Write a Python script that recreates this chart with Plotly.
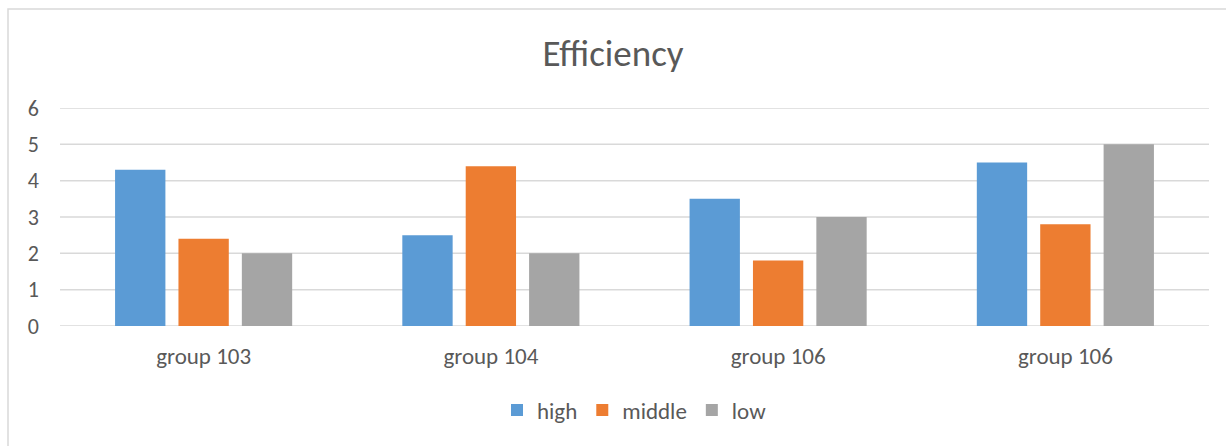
import plotly.graph_objects as go

# Chart data
groups = ["group 103", "group 104", "group 106", "group 106"]
high = [4.3, 2.5, 3.5, 4.5]
middle = [2.4, 4.4, 1.8, 2.8]
low = [2.0, 2.0, 3.0, 5.0]
y_ticks = [0, 1, 2, 3, 4, 5, 6]

FONT = "Calibri, Carlito, Lato, sans-serif"
TEXT = "#595959"
GRID = "#D9D9D9"

# Two groups share a label, so bars sit on numeric positions with text ticks
pos = list(range(len(groups)))

fig = go.Figure()
for name, vals, color in [("high", high, "#5B9BD5"),
                          ("middle", middle, "#ED7D31"),
                          ("low", low, "#A5A5A5")]:
    fig.add_trace(go.Bar(x=pos, y=vals, name=name, marker_color=color,
                         marker_line_width=0))

W, H = 1226, 446
L, R, T, B = 60, 17, 108, 120
pw, ph = W - L - R, H - T - B

# horizontal gridlines drawn as shapes so the top one at the range edge shows
grid_shapes = [
    dict(type="line", xref="paper", yref="y", x0=0, x1=1, y0=v, y1=v,
         line=dict(color=GRID, width=1.5), layer="below")
    for v in y_ticks
]

fig.update_layout(
    width=W, height=H,
    margin=dict(l=L, r=R, t=T, b=B),
    paper_bgcolor="white", plot_bgcolor="white",
    barmode="group", bargap=0.338, bargroupgap=0.206,
    font=dict(family=FONT, color=TEXT, size=22),
    title=dict(text="Efficiency", x=0.5, xanchor="center",
               y=1 - 53 / H, yanchor="middle",
               font=dict(family=FONT, size=37, color=TEXT)),
    xaxis=dict(tickmode="array", tickvals=pos, ticktext=groups,
               range=[-0.5, len(groups) - 0.5], showgrid=False,
               zeroline=False, showline=False, ticks="",
               ticklabelstandoff=14,
               tickfont=dict(size=23, color=TEXT)),
    yaxis=dict(range=[0, 6], tickvals=y_ticks, showgrid=False,
               zeroline=False, showline=False, ticks="",
               ticklabelstandoff=20,
               tickfont=dict(size=22, color=TEXT)),
    legend=dict(orientation="h", x=0.5, xanchor="center",
                y=-(410 - T - ph) / ph, yanchor="middle",
                font=dict(size=23, color=TEXT), itemwidth=30,
                traceorder="normal"),
    shapes=[
        # chart-area border
        dict(type="rect", xref="paper", yref="paper",
             x0=(8 - L) / pw, x1=(W + 5 - L) / pw,
             y0=-(H + 5 - T - ph) / ph, y1=1 + (T - 9) / ph,
             line=dict(color=GRID, width=1.5), layer="below"),
    ] + grid_shapes,
)

fig.write_html("out.html")
